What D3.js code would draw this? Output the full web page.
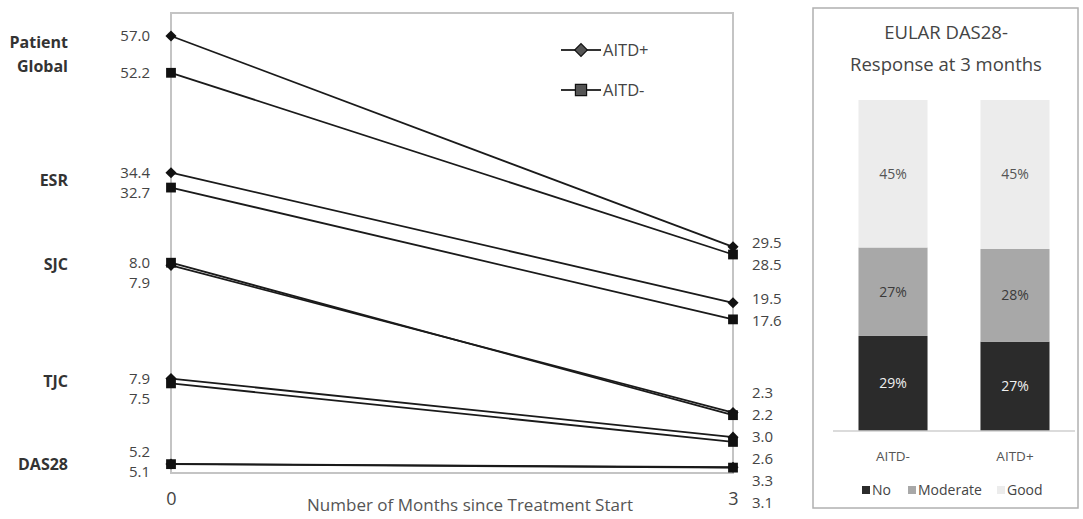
<!DOCTYPE html>
<meta charset="utf-8">
<head>
<script src="https://cdn.jsdelivr.net/npm/d3@7/dist/d3.min.js"></script>
<style>
	body { margin: 0; background: #fff; }
	svg { font-family: 'Open Sans', 'Noto Sans', sans-serif; }
</style>
</head>
<body>
<div id="svg-container"></div>
<script>

// measures, values at month 0 and month 3
const measures = ['Patient Global', 'ESR', 'SJC', 'TJC', 'DAS28']
const months = [0, 3]
const aitdPlusStart = [57.0, 34.4, 7.9, 7.9, 5.2]
const aitdPlusEnd = [29.5, 19.5, 2.3, 3.0, 3.3]
const aitdMinusStart = [52.2, 32.7, 8.0, 7.5, 5.1]
const aitdMinusEnd = [28.5, 17.6, 2.2, 2.6, 3.1]
// each measure sits on its own axis, this is the value at the top of it
const measureMax = [60, 52.7, 17.5, 38.5, 265]

// EULAR response
const responseGroups = ['AITD-', 'AITD+']
const responseCats = ['No', 'Moderate', 'Good']
const responseNo = [29, 27]
const responseModerate = [27, 28]
const responseGood = [45, 45]

const W = 1083, H = 519

const margin = {top: 13, left: 171},
	plotW = 562,
	plotH = 460

const svg = d3.select('#svg-container').append('svg')
	.attr('width', W)
	.attr('height', H)

////////////////////////////////////
// LEFT CHART
////////////////////////////////////

const xScale = d3.scaleLinear()
	.domain([0, 3])
	.range([margin.left, margin.left + plotW])

const yScales = measureMax.map(m => d3.scaleLinear()
	.domain([0, m])
	.range([margin.top + plotH, margin.top]))

const series = [
	{name: 'AITD+', start: aitdPlusStart, end: aitdPlusEnd, rot: 45, size: 62},
	{name: 'AITD-', start: aitdMinusStart, end: aitdMinusEnd, rot: 0, size: 96}
]

// frame
svg.append('rect')
	.attr('x', margin.left)
	.attr('y', margin.top)
	.attr('width', plotW)
	.attr('height', plotH)
	.attr('fill', 'none')
	.attr('stroke', '#c4c4c4')
	.attr('stroke-width', 2)

const xAxis = svg.append('g')
	.attr('transform', `translate(0,${margin.top + plotH})`)
	.call(d3.axisBottom(xScale).tickValues(months).tickFormat(d3.format('d')).tickSize(0).tickPadding(19))
xAxis.select('.domain').remove()
xAxis.selectAll('text')
	.attr('font-size', 18)
	.attr('fill', '#444')
	.style('font-family', "'Open Sans', sans-serif")

svg.append('text')
	.attr('x', 470)
	.attr('y', 511)
	.attr('text-anchor', 'middle')
	.attr('font-size', 17)
	.attr('fill', '#555')
	.text('Number of Months since Treatment Start')

const segs = []
series.forEach(s => {
	measures.forEach((m, i) => {
		segs.push({s: s, i: i,
			y0: yScales[i](s.start[i]), y1: yScales[i](s.end[i])})
	})
})

svg.append('g').selectAll('line')
	.data(segs)
	.enter().append('line')
	.attr('x1', xScale(0))
	.attr('x2', xScale(3))
	.attr('y1', d => d.y0)
	.attr('y2', d => d.y1)
	.attr('stroke', '#1a1a1a')
	.attr('stroke-width', 1.8)

const markerPts = []
segs.forEach(d => {
	markerPts.push({s: d.s, x: xScale(0), y: d.y0})
	markerPts.push({s: d.s, x: xScale(3), y: d.y1})
})

svg.append('g').selectAll('path')
	.data(markerPts)
	.enter().append('path')
	.attr('d', d => d3.symbol(d3.symbolSquare, d.s.size)())
	.attr('transform', d => `translate(${d.x},${d.y}) rotate(${d.s.rot})`)
	.attr('fill', '#111')

// spread value labels so they do not overlap
function spread(items, gap, maxY) {
	items.sort((a, b) => a.target - b.target)
	items.forEach((d, k) => {
		d.y = k === 0 ? d.target : Math.max(d.target, items[k - 1].y + gap)
	})
	for (let k = items.length - 1; k >= 0; k--) {
		const lim = k === items.length - 1 ? maxY : items[k + 1].y - gap
		items[k].y = Math.min(items[k].y, lim)
	}
	return items
}

const leftLabels = spread(segs.map(d => ({v: d.s.start[d.i], target: d.y0})), 20.5, 472)
const rightLabels = spread(segs.map(d => ({v: d.s.end[d.i], target: d.y1 - 4})), 22, 503)

svg.append('g').selectAll('text')
	.data(leftLabels)
	.enter().append('text')
	.attr('x', xScale(0) - 21)
	.attr('y', d => d.y)
	.attr('dy', '0.35em')
	.attr('text-anchor', 'end')
	.attr('font-size', 15)
	.attr('fill', '#444')
	.text(d => d.v.toFixed(1))

svg.append('g').selectAll('text')
	.data(rightLabels)
	.enter().append('text')
	.attr('x', xScale(3) + 19)
	.attr('y', d => d.y)
	.attr('dy', '0.35em')
	.attr('font-size', 15)
	.attr('fill', '#444')
	.text(d => d.v.toFixed(1))

// measure names
const nameG = svg.append('g')
measures.forEach((m, i) => {
	const yc = (yScales[i](aitdPlusStart[i]) + yScales[i](aitdMinusStart[i])) / 2
	const words = m === 'Patient Global' ? ['Patient', 'Global'] : [m]
	const t = nameG.append('text')
		.attr('x', 68)
		.attr('y', yc - (words.length - 1) * 12)
		.attr('text-anchor', 'end')
		.attr('font-size', 16)
		.attr('font-weight', 'bold')
		.attr('fill', '#333')
	words.forEach((w, k) => {
		t.append('tspan')
			.attr('x', 68)
			.attr('dy', k === 0 ? '0.35em' : 24)
			.text(w)
	})
})

// legend
const legend = svg.append('g').selectAll('g')
	.data(series)
	.enter().append('g')
	.attr('transform', (d, i) => `translate(561,${50 + i * 40})`)
legend.append('line')
	.attr('x1', 0).attr('x2', 40)
	.attr('stroke', '#333').attr('stroke-width', 2)
legend.append('path')
	.attr('d', d => d3.symbol(d3.symbolSquare, d.size * 1.3)())
	.attr('transform', d => `translate(20,0) rotate(${d.rot})`)
	.attr('fill', '#555')
	.attr('stroke', '#111')
	.attr('stroke-width', 1.2)
legend.append('text')
	.attr('x', 42)
	.attr('dy', '0.35em')
	.attr('font-size', 16.5)
	.attr('fill', '#444')
	.text(d => d.name)

////////////////////////////////////
// RIGHT PANEL
////////////////////////////////////

svg.append('rect')
	.attr('x', 813).attr('y', 8)
	.attr('width', 265).attr('height', 500)
	.attr('fill', '#fff')
	.attr('stroke', '#b0b0b0')
	.attr('stroke-width', 1.5)

svg.append('text')
	.attr('x', 946).attr('y', 39)
	.attr('text-anchor', 'middle')
	.attr('font-size', 18.5)
	.attr('fill', '#444')
	.selectAll('tspan')
	.data(['EULAR DAS28-', 'Response at 3 months'])
	.enter().append('tspan')
	.attr('x', 946)
	.attr('dy', (d, i) => i === 0 ? 0 : 32)
	.text(d => d)

const rows = responseGroups.map((g, i) => ({group: g,
	No: responseNo[i], Moderate: responseModerate[i], Good: responseGood[i]}))

const stacked = d3.stack()
	.keys(responseCats)
	.offset(d3.stackOffsetExpand)(rows)

const bx = d3.scaleBand()
	.domain(responseGroups)
	.range([833, 1075])
	.paddingInner(0.434)
	.paddingOuter(0.209)

const by = d3.scaleLinear()
	.domain([0, 1])
	.range([431, 100])

const fills = d3.scaleOrdinal().domain(responseCats).range(['#2b2b2b', '#a8a8a8', '#ececec'])
const labelFill = d3.scaleOrdinal().domain(responseCats).range(['#f0f0f0', '#3a3a3a', '#555'])

const layers = svg.append('g').selectAll('g')
	.data(stacked)
	.enter().append('g')
	.attr('fill', d => fills(d.key))

layers.selectAll('rect')
	.data(d => d)
	.enter().append('rect')
	.attr('x', d => bx(d.data.group))
	.attr('width', bx.bandwidth())
	.attr('y', d => by(d[1]))
	.attr('height', d => by(d[0]) - by(d[1]))

layers.selectAll('text')
	.data(d => d.map(p => Object.assign({key: d.key}, p)))
	.enter().append('text')
	.attr('x', d => bx(d.data.group) + bx.bandwidth() / 2)
	.attr('y', d => (by(d[0]) + by(d[1])) / 2)
	.attr('dy', '0.35em')
	.attr('text-anchor', 'middle')
	.attr('font-size', 14)
	.attr('fill', d => labelFill(d.key))
	.text(d => d.data[d.key] + '%')

const bAxis = svg.append('g')
	.attr('transform', 'translate(0,431)')
	.call(d3.axisBottom(bx).tickSize(0).tickPadding(20))
bAxis.select('.domain')
	.attr('d', 'M833,0H1075')
	.attr('stroke', '#cfcfcf')
	.attr('stroke-width', 1.5)
bAxis.selectAll('text')
	.attr('font-size', 13.5)
	.attr('fill', '#555')
	.style('font-family', "'Open Sans', sans-serif")

const bLegendX = [862, 908, 997]
const bLeg = svg.append('g').selectAll('g')
	.data(responseCats)
	.enter().append('g')
	.attr('transform', (d, i) => `translate(${bLegendX[i]},490)`)
bLeg.append('rect')
	.attr('y', -4).attr('width', 8).attr('height', 8)
	.attr('fill', d => fills(d))
bLeg.append('text')
	.attr('x', 10)
	.attr('dy', '0.35em')
	.attr('font-size', 14)
	.attr('fill', '#444')
	.text(d => d)

</script>
</body>
